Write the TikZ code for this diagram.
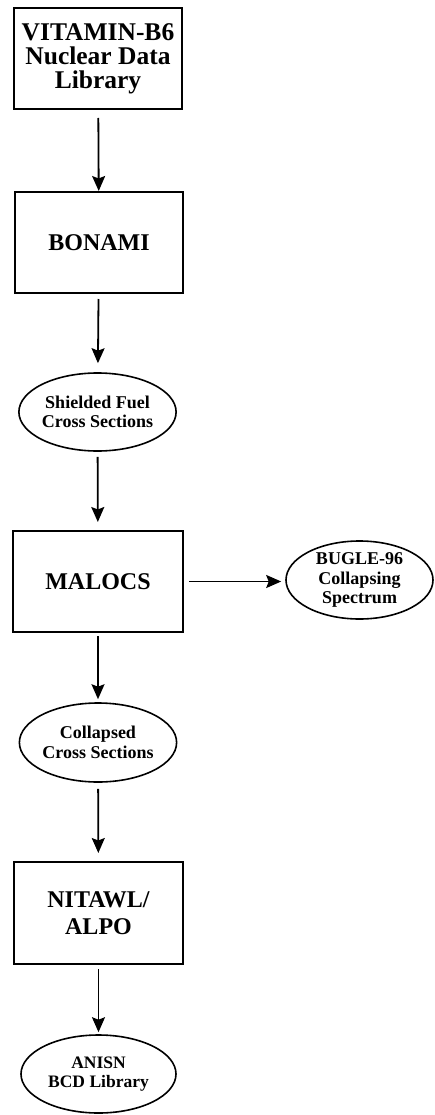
\documentclass[tikz,border=0pt]{standalone}
\usepackage{fontspec}
\setmainfont{Liberation Serif}
\usetikzlibrary{shapes.geometric,arrows.meta}
\begin{document}
\begin{tikzpicture}[x=1pt,y=-1pt,
  boxnode/.style={draw, line width=2pt, rectangle, inner sep=0pt, align=center, font=\bfseries\fontsize{24}{25}\selectfont},
  ovalnode/.style={draw, line width=1.6pt, ellipse, inner sep=0pt, align=center, font=\bfseries\fontsize{18}{19.5}\selectfont},
  flow/.style={line width=1.8pt, -{Stealth[length=15pt,width=13pt,inset=2.5pt]}}]
\useasboundingbox (0,0) rectangle (434,1115);
\node[boxnode, minimum width=168pt, minimum height=101pt, font=\bfseries\fontsize{25.5}{24}\selectfont] (vit) at (98,58.5) {VITAMIN-B6\\Nuclear Data\\Library};
\node[boxnode, minimum width=168pt, minimum height=101pt] (bon) at (99,242.5) {BONAMI};
\node[ovalnode, minimum width=155pt, minimum height=78pt] (shf) at (97.5,412) {Shielded Fuel\\Cross Sections};
\node[boxnode, minimum width=170pt, minimum height=101pt] (mal) at (98,581.5) {MALOCS};
\node[ovalnode, minimum width=147pt, minimum height=78pt] (bug) at (359.5,580) {BUGLE-96\\Collapsing\\Spectrum};
\node[ovalnode, minimum width=154pt, minimum height=79pt] (col) at (98,742.5) {Collapsed\\Cross Sections};
\node[boxnode, minimum width=169pt, minimum height=102pt, font=\bfseries\fontsize{24}{27}\selectfont] (nit) at (98.5,913) {NITAWL/\\ALPO};
\node[ovalnode, minimum width=155pt, minimum height=78pt, font=\bfseries\fontsize{17.5}{19}\selectfont] (ani) at (98.5,1074) {ANISN\\BCD Library};
\draw[flow, shorten <=8pt] (vit) -- (bon);
\draw[flow, shorten <=5pt, shorten >=9pt] (bon) -- (shf);
\draw[flow, shorten <=5pt, shorten >=8pt] (shf) -- (mal);
\draw[flow, shorten <=5pt, shorten >=4pt] (mal.east) -- (bug.west |- mal.east);
\draw[flow, shorten <=3pt, shorten >=3pt] (mal) -- (col);
\draw[flow, shorten <=6pt, shorten >=8pt] (col) -- (nit);
\draw[flow, shorten <=4pt, shorten >=2pt] (nit) -- (ani);
\end{tikzpicture}
\end{document}
